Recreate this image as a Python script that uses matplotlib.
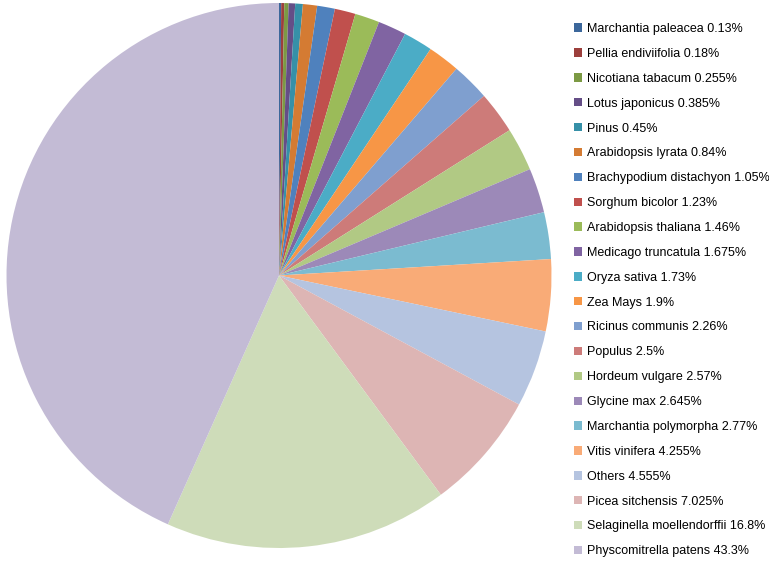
import matplotlib.pyplot as plt
from matplotlib.patches import Patch

plt.rcParams['font.family'] = ['Liberation Sans', 'DejaVu Sans']

# species and their share (%)
species = ['Marchantia paleacea', 'Pellia endiviifolia', 'Nicotiana tabacum',
           'Lotus japonicus', 'Pinus', 'Arabidopsis lyrata',
           'Brachypodium distachyon', 'Sorghum bicolor', 'Arabidopsis thaliana',
           'Medicago truncatula', 'Oryza sativa', 'Zea Mays',
           'Ricinus communis', 'Populus', 'Hordeum vulgare', 'Glycine max',
           'Marchantia polymorpha', 'Vitis vinifera', 'Others',
           'Picea sitchensis', 'Selaginella moellendorffii', 'Physcomitrella patens']
shares = [0.13, 0.18, 0.255, 0.385, 0.45, 0.84,
          1.05, 1.23, 1.46, 1.675, 1.73, 1.9,
          2.26, 2.5, 2.57, 2.645, 2.77, 4.255, 4.555,
          7.025, 16.8, 43.3]
share_labels = ['0.13%', '0.18%', '0.255%', '0.385%', '0.45%', '0.84%',
                '1.05%', '1.23%', '1.46%', '1.675%', '1.73%', '1.9%',
                '2.26%', '2.5%', '2.57%', '2.645%', '2.77%', '4.255%', '4.555%',
                '7.025%', '16.8%', '43.3%']

# office-2007 style palette: dark shades, base colours, light tints
colors = ['#3C679B', '#9C3F3C', '#7C9A44', '#654E87', '#3690A8', '#D47B33',
          '#4F81BD', '#C0504D', '#9BBB59', '#8064A2', '#4BACC6', '#F79646',
          '#7F9FCF', '#CD7B79', '#B1C984', '#9C89B8', '#7BBBD0', '#F9AB77',
          '#B5C4E0', '#DDB5B4', '#CEDCB9', '#C3BBD5']

fig = plt.figure(figsize=(7.69, 5.75), dpi=100)
ax = fig.add_axes([6 / 769, 27 / 575, 546 / 769, 545 / 575])
ax.pie(shares, colors=colors, startangle=90, counterclock=False,
       wedgeprops=dict(linewidth=0))
ax.set_xlim(-1, 1)
ax.set_ylim(-1, 1)
ax.set_aspect('equal')

handles = [Patch(facecolor=c, edgecolor='none') for c in colors]
labels = [f'{s} {p}' for s, p in zip(species, share_labels)]
fig.legend(handles, labels, loc='upper left', bbox_to_anchor=(569 / 769, 1 - 18 / 575),
           frameon=False, fontsize=9, handlelength=0.65, handleheight=0.65,
           handletextpad=0.4, labelspacing=1.03, borderaxespad=0)

fig.savefig('out.png', dpi=100)
